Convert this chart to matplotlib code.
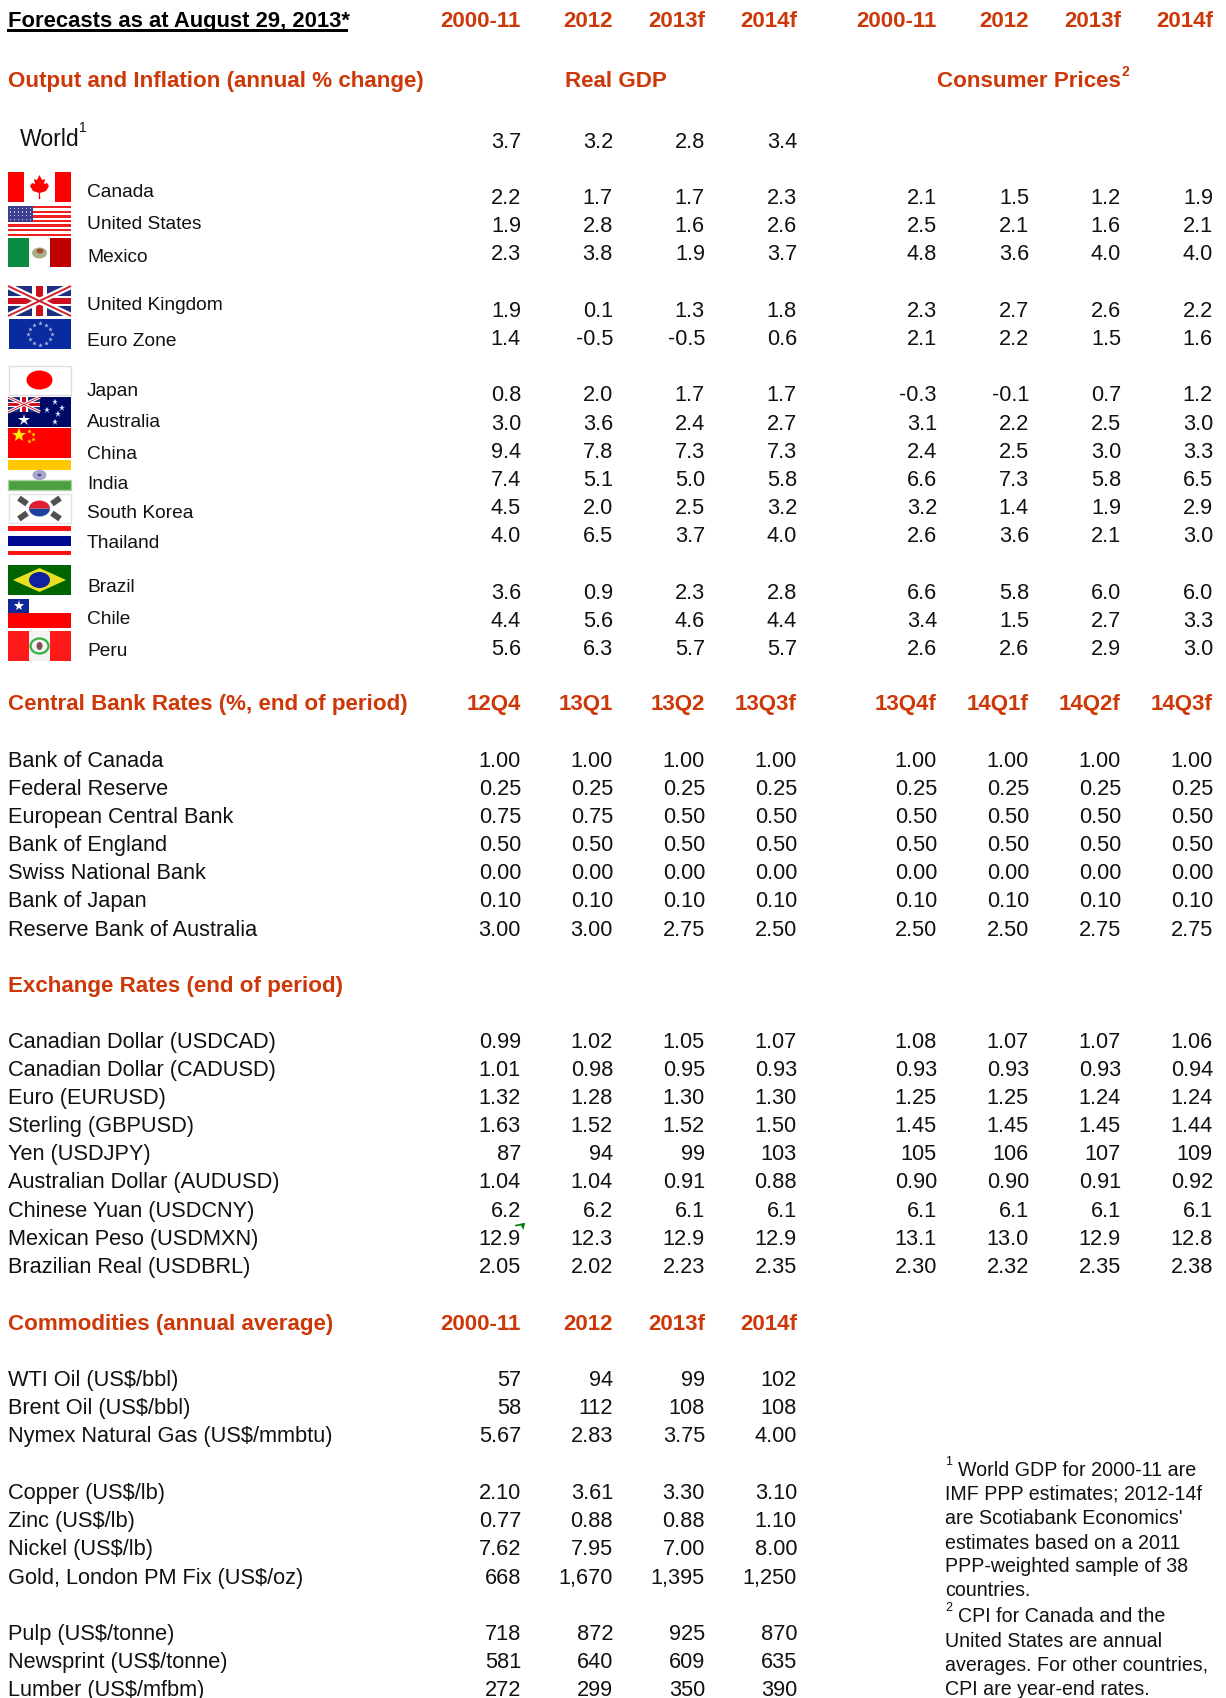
import matplotlib
matplotlib.use("Agg")
import matplotlib.pyplot as plt
from matplotlib.patches import Rectangle, Ellipse, Polygon, Wedge
from matplotlib.transforms import Affine2D

ORANGE = "#CC3808"
BLACK = "#111111"
SANS = "Liberation Sans"

# ---- table data ----
year_cols = ["2000-11", "2012", "2013f", "2014f"]
rate_cols_left = ["12Q4", "13Q1", "13Q2", "13Q3f"]
rate_cols_right = ["13Q4f", "14Q1f", "14Q2f", "14Q3f"]

world_gdp = ["3.7", "3.2", "2.8", "3.4"]

countries = ["Canada", "United States", "Mexico", "United Kingdom", "Euro Zone",
             "Japan", "Australia", "China", "India", "South Korea", "Thailand",
             "Brazil", "Chile", "Peru"]
gdp = [["2.2", "1.7", "1.7", "2.3"], ["1.9", "2.8", "1.6", "2.6"], ["2.3", "3.8", "1.9", "3.7"],
       ["1.9", "0.1", "1.3", "1.8"], ["1.4", "-0.5", "-0.5", "0.6"],
       ["0.8", "2.0", "1.7", "1.7"], ["3.0", "3.6", "2.4", "2.7"], ["9.4", "7.8", "7.3", "7.3"],
       ["7.4", "5.1", "5.0", "5.8"], ["4.5", "2.0", "2.5", "3.2"], ["4.0", "6.5", "3.7", "4.0"],
       ["3.6", "0.9", "2.3", "2.8"], ["4.4", "5.6", "4.6", "4.4"], ["5.6", "6.3", "5.7", "5.7"]]
cpi = [["2.1", "1.5", "1.2", "1.9"], ["2.5", "2.1", "1.6", "2.1"], ["4.8", "3.6", "4.0", "4.0"],
       ["2.3", "2.7", "2.6", "2.2"], ["2.1", "2.2", "1.5", "1.6"],
       ["-0.3", "-0.1", "0.7", "1.2"], ["3.1", "2.2", "2.5", "3.0"], ["2.4", "2.5", "3.0", "3.3"],
       ["6.6", "7.3", "5.8", "6.5"], ["3.2", "1.4", "1.9", "2.9"], ["2.6", "3.6", "2.1", "3.0"],
       ["6.6", "5.8", "6.0", "6.0"], ["3.4", "1.5", "2.7", "3.3"], ["2.6", "2.6", "2.9", "3.0"]]

banks = ["Bank of Canada", "Federal Reserve", "European Central Bank", "Bank of England",
         "Swiss National Bank", "Bank of Japan", "Reserve Bank of Australia"]
bank_rates = [["1.00"] * 8, ["0.25"] * 8,
              ["0.75", "0.75", "0.50", "0.50", "0.50", "0.50", "0.50", "0.50"],
              ["0.50"] * 8, ["0.00"] * 8, ["0.10"] * 8,
              ["3.00", "3.00", "2.75", "2.50", "2.50", "2.50", "2.75", "2.75"]]

fx_names = ["Canadian Dollar (USDCAD)", "Canadian Dollar (CADUSD)", "Euro (EURUSD)", "Sterling (GBPUSD)",
            "Yen (USDJPY)", "Australian Dollar (AUDUSD)", "Chinese Yuan (USDCNY)",
            "Mexican Peso (USDMXN)", "Brazilian Real (USDBRL)"]
fx_rates = [["0.99", "1.02", "1.05", "1.07", "1.08", "1.07", "1.07", "1.06"],
            ["1.01", "0.98", "0.95", "0.93", "0.93", "0.93", "0.93", "0.94"],
            ["1.32", "1.28", "1.30", "1.30", "1.25", "1.25", "1.24", "1.24"],
            ["1.63", "1.52", "1.52", "1.50", "1.45", "1.45", "1.45", "1.44"],
            ["87", "94", "99", "103", "105", "106", "107", "109"],
            ["1.04", "1.04", "0.91", "0.88", "0.90", "0.90", "0.91", "0.92"],
            ["6.2", "6.2", "6.1", "6.1", "6.1", "6.1", "6.1", "6.1"],
            ["12.9", "12.3", "12.9", "12.9", "13.1", "13.0", "12.9", "12.8"],
            ["2.05", "2.02", "2.23", "2.35", "2.30", "2.32", "2.35", "2.38"]]

commodities = ["WTI Oil (US$/bbl)", "Brent Oil (US$/bbl)", "Nymex Natural Gas (US$/mmbtu)",
               "Copper (US$/lb)", "Zinc (US$/lb)", "Nickel (US$/lb)", "Gold, London PM Fix (US$/oz)",
               "Pulp (US$/tonne)", "Newsprint (US$/tonne)", "Lumber (US$/mfbm)"]
commodity_prices = [["57", "94", "99", "102"], ["58", "112", "108", "108"], ["5.67", "2.83", "3.75", "4.00"],
                    ["2.10", "3.61", "3.30", "3.10"], ["0.77", "0.88", "0.88", "1.10"],
                    ["7.62", "7.95", "7.00", "8.00"], ["668", "1,670", "1,395", "1,250"],
                    ["718", "872", "925", "870"], ["581", "640", "609", "635"], ["272", "299", "350", "390"]]

footnote_lines = [" World GDP for 2000-11 are", "IMF PPP estimates; 2012-14f", "are Scotiabank Economics'",
                  "estimates based on a 2011", "PPP-weighted sample of 38", "countries.",
                  " CPI for Canada and the", "United States are annual",
                  "averages. For other countries,", "CPI are year-end rates."]

# ---- layout, in image pixels ----
col_x = [521, 613, 705, 797, 937, 1029, 1121, 1213]
country_y = [197, 225, 253, 310, 338, 394, 423, 451, 479, 507, 535, 592, 620, 648]
country_label_y = [191, 223, 256, 304, 340, 390, 421, 453, 483, 512, 542, 586, 618, 650]
flag_top = [173, 207, 239, 287, 320, 367, 398, 429, 461, 495, 527, 566, 600, 632]
bank_y = [760 + 28.17 * i for i in range(7)]
fx_y = [1041 + 28.17 * i for i in range(9)]
comm_y = [1379, 1407, 1435, 1492, 1520, 1548, 1577, 1633, 1661, 1689]
foot_y = [1470, 1494, 1518, 1543, 1566, 1590, 1616, 1641, 1665, 1689]

fig = plt.figure(figsize=(12.26, 16.99), dpi=100)
ax = fig.add_axes([0, 0, 1, 1])
ax.set_xlim(0, 1226)
ax.set_ylim(1699, 0)
ax.axis("off")


def put(x, y, s, size=15.7, ha="left", color=BLACK, weight="normal"):
    # y is near the middle of the digits
    ax.text(x, y + size * 0.5 - 1.2, s, fontsize=size, ha=ha, va="baseline", color=color,
            fontweight=weight, family=SANS)


def row_values(y, vals, start=0):
    for i, v in enumerate(vals):
        put(col_x[start + i], y, v, ha="right")


def head_cols(y, names, start=0):
    for i, v in enumerate(names):
        put(col_x[start + i], y, v, size=16, ha="right", color=ORANGE, weight="bold")


def head(x, y, s):
    put(x, y, s, size=16.1, color=ORANGE, weight="bold")


def rect(x, y, w, h, c, **kw):
    ax.add_patch(Rectangle((x, y), w, h, fc=c, ec=kw.pop("ec", "none"), lw=kw.pop("lw", 0), **kw))


def oval(x, y, w, h, c, **kw):
    ax.add_patch(Ellipse((x, y), w, h, fc=c, ec=kw.pop("ec", "none"), lw=kw.pop("lw", 0), **kw))


def star(x, y, s, c="white"):
    ax.plot([x], [y], marker="*", ms=s, color=c, mew=0, ls="none")


def flag_canada(t):
    rect(8, t, 63, 30, "#FF0000")
    rect(24, t, 31, 30, "white")
    leaf = [(39.5, t + 3), (42, t + 8), (45, t + 7), (44, t + 12), (47, t + 11), (49, t + 14), (46, t + 19),
            (40, t + 21), (40.3, t + 27), (38.7, t + 27), (39, t + 21), (33, t + 19), (30, t + 14), (32, t + 11),
            (35, t + 12), (34, t + 7), (37, t + 8)]
    ax.add_patch(Polygon(leaf, fc="#FF0000", ec="none"))


def flag_us(t):
    rect(8, t, 63, 30, "white")
    for i in range(7):
        rect(8, t + i * 4.6, 63, 2.3, "#F02020")
    rect(8, t, 25, 16, "#3C3F8F")
    for r in range(4):
        for c in range(6):
            rect(10 + c * 3.9, t + 1.8 + r * 3.6, 1.2, 1.2, "#C9CCE8")


def flag_mexico(t):
    rect(8, t, 21, 29, "#0B8A44")
    rect(29, t, 21, 29, "white")
    rect(50, t, 21, 29, "#C00000")
    oval(39.5, t + 15, 15, 11, "#A8B08A")
    oval(40, t + 13, 7, 5, "#A0522D")


def flag_uk(t, x=8, w=63, h=30):
    rect(x, t, w, h, "#1F2F80")
    ax.plot([x, x + w], [t, t + h], color="white", lw=4.5 * h / 30, solid_capstyle="butt")
    ax.plot([x, x + w], [t + h, t], color="white", lw=4.5 * h / 30, solid_capstyle="butt")
    ax.plot([x, x + w], [t, t + h], color="#D02030", lw=1.4 * h / 30, solid_capstyle="butt")
    ax.plot([x, x + w], [t + h, t], color="#D02030", lw=1.4 * h / 30, solid_capstyle="butt")
    rect(x + w * 0.38, t, w * 0.24, h, "white")
    rect(x, t + h * 0.34, w, h * 0.32, "white")
    rect(x + w * 0.44, t, w * 0.12, h, "#CC1020")
    rect(x, t + h * 0.4, w, h * 0.2, "#CC1020")


def flag_euro(t):
    rect(9, t, 62, 30, "#0A2AA0")
    spots = [(40, t + 4), (46, t + 6), (50, t + 10), (52, t + 15), (50, t + 20), (46, t + 24),
             (40, t + 26), (34, t + 24), (30, t + 20), (28, t + 15), (30, t + 10), (34, t + 6)]
    for sx, sy in spots:
        star(sx, sy, 3.5, "#A8B4E0")


def flag_japan(t):
    rect(9, t, 62, 29, "white", ec="#DDDDDD", lw=1)
    oval(39.5, t + 14, 26, 19, "#FF0000")


def flag_australia(t):
    rect(8, t, 63, 30, "#000A66")
    flag_uk(t, 8, 32, 15)
    star(24, t + 23, 9)
    for sx, sy in [(55, t + 5), (47, t + 13), (62, t + 11), (58, t + 17), (55, t + 25)]:
        star(sx, sy, 4.5, "#DDE0FF")


def flag_china(t):
    rect(8, t, 63, 30, "#FF0000")
    star(18.5, t + 7, 10, "#FFEE00")
    for sx, sy in [(29, t + 3), (33, t + 6), (33, t + 11), (29, t + 13)]:
        star(sx, sy, 3.5, "#FFD800")


def flag_india(t):
    rect(8, t, 63, 30, "white")
    rect(8, t, 63, 10, "#FFC800")
    rect(8, t + 20, 63, 10, "#4CA040", ec="#A8D0A0", lw=1)
    oval(39.5, t + 15, 13, 9, "#A8A8D0", ec="#8888B8", lw=0.5)
    oval(39.5, t + 15, 4, 3, "#505090")


def flag_korea(t):
    rect(9, t, 62, 29, "white", ec="#E4E4E4", lw=1)
    squash = Affine2D().scale(1, 0.76).translate(39.5, t + 14.5) + ax.transData
    ax.add_patch(Wedge((0, 0), 10.5, 0, 180, fc="#2040A0", ec="none", transform=squash))
    ax.add_patch(Wedge((0, 0), 10.5, 180, 360, fc="#E02030", ec="none", transform=squash))
    for sx, sy, a in [(23, t + 7, 35), (56, t + 7, -35), (23, t + 22, -35), (56, t + 22, 35)]:
        rect(sx - 5, sy - 3, 10, 6, "#505050",
             transform=Affine2D().rotate_deg_around(sx, sy, a) + ax.transData)


def flag_thailand(t):
    rect(8, t, 63, 29, "#FF1010")
    rect(8, t + 4.5, 63, 20, "white")
    rect(8, t + 10, 63, 9.5, "#000A90")


def flag_brazil(t):
    rect(8, t, 63, 30, "#006400")
    ax.add_patch(Polygon([(13, t + 15), (39.5, t + 3), (66, t + 15), (39.5, t + 27)], fc="#E8E020", ec="none"))
    oval(39.5, t + 15, 21, 16, "#1020A0")


def flag_chile(t):
    rect(8, t, 63, 15, "white")
    rect(8, t + 14, 63, 15, "#FF0000")
    rect(8, t, 21, 14, "#102898")
    star(18.5, t + 7, 8)


def flag_peru(t):
    rect(8, t, 63, 30, "#FF1A1A")
    rect(29, t, 21, 30, "#F4F4F4")
    oval(39.5, t + 15, 18, 15, "none", ec="#30B040", lw=1.6)
    oval(39.5, t + 15, 6, 8, "#805050")


flag_funcs = [flag_canada, flag_us, flag_mexico, flag_uk, flag_euro, flag_japan, flag_australia,
              flag_china, flag_india, flag_korea, flag_thailand, flag_brazil, flag_chile, flag_peru]

# ---- header ----
put(8, 20.5, "Forecasts as at August 29, 2013*", size=15.8, color="black", weight="bold")
rect(7, 30, 341, 2.5, "black")
head_cols(20, year_cols)
head_cols(20, year_cols, 4)

# ---- output and inflation ----
head(8, 80, "Output and Inflation (annual % change)")
head(565, 80, "Real GDP")
head(937, 80, "Consumer Prices")
put(1122, 72, "2", size=10, color=ORANGE, weight="bold")

put(20, 139, "World", size=16.6)
put(79, 128, "1", size=10)
row_values(141, world_gdp)

for i, name in enumerate(countries):
    flag_funcs[i](flag_top[i])
    put(87, country_label_y[i], name, size=13.8)
    row_values(country_y[i], gdp[i])
    row_values(country_y[i], cpi[i], 4)

# ---- central banks ----
head(8, 703, "Central Bank Rates (%, end of period)")
head_cols(703, rate_cols_left)
head_cols(703, rate_cols_right, 4)
for i, name in enumerate(banks):
    put(8, bank_y[i], name)
    row_values(bank_y[i], bank_rates[i])

# ---- exchange rates ----
head(8, 985, "Exchange Rates (end of period)")
for i, name in enumerate(fx_names):
    put(8, fx_y[i], name)
    row_values(fx_y[i], fx_rates[i])

# small green comment marker by the peso figure
ax.plot([516, 524], [1226.5, 1225], color="#008000", lw=1.2)
ax.add_patch(Polygon([(520, 1225), (525, 1224), (523.5, 1231)], fc="#008000", ec="none"))

# ---- commodities ----
head(8, 1323, "Commodities (annual average)")
head_cols(1323, year_cols)
for i, name in enumerate(commodities):
    put(8, comm_y[i], name)
    row_values(comm_y[i], commodity_prices[i])

# ---- footnotes ----
for y, line in zip(foot_y, footnote_lines):
    indent = 13 if line.startswith(" ") else 0
    put(945 + indent, y, line.strip(), size=14.1)
put(945, foot_y[0] - 8, "1", size=9)
put(945, foot_y[6] - 8, "2", size=9)

fig.savefig("out.png", dpi=100, facecolor="white")
